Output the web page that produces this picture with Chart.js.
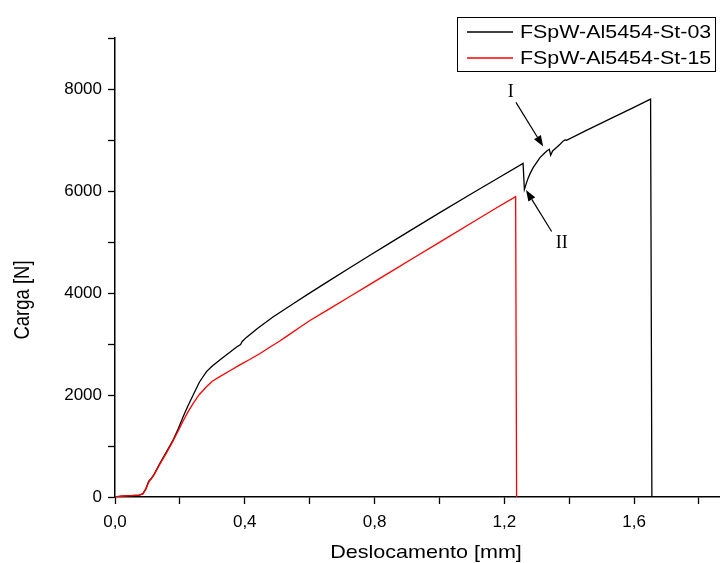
<!DOCTYPE html>
<html>
<head>
<meta charset="utf-8">
<script src="https://cdn.jsdelivr.net/npm/chart.js@4.4.1/dist/chart.umd.min.js"></script>
<style>
  html, body { margin: 0; padding: 0; background: #fff; }
  #wrap { width: 720px; height: 563px; position: relative; }
</style>
</head>
<body>
<div id="wrap"><canvas id="c" width="720" height="563"></canvas></div>
<script>
// Load–displacement curves of two friction spot welds (Al5454 / steel)
const seriesLabels = ['FSpW-Al5454-St-03', 'FSpW-Al5454-St-15'];

const dispSt03 = [0, 0.02, 0.05, 0.075, 0.086, 0.095, 0.102, 0.106, 0.110, 0.12, 0.138, 0.16, 0.179, 0.195,
  0.21, 0.225, 0.241, 0.26, 0.282, 0.30, 0.323, 0.35, 0.375, 0.387, 0.392, 0.405, 0.44, 0.487, 0.554,
  0.601, 0.662, 0.724, 0.786, 0.847, 0.92, 1.0, 1.1, 1.18, 1.258, 1.262, 1.268, 1.274, 1.281, 1.289,
  1.30, 1.31, 1.322, 1.331, 1.339, 1.343, 1.349, 1.361, 1.372, 1.382, 1.387, 1.392, 1.45, 1.526, 1.59,
  1.651, 1.655];
const loadSt03 = [0, 15, 25, 35, 66, 160, 280, 330, 345, 440, 657, 900, 1115, 1340,
  1573, 1790, 2000, 2250, 2458, 2570, 2688, 2820, 2940, 2990, 3050, 3130, 3310, 3530, 3810,
  4003, 4248, 4495, 4740, 4978, 5262, 5570, 5950, 6249, 6540, 6030, 6150, 6262, 6360, 6459,
  6560, 6655, 6730, 6786, 6818, 6700, 6785, 6852, 6917, 6982, 7001, 6995, 7180, 7414, 7610,
  7802, 0];

const dispSt15 = [0, 0.02, 0.05, 0.075, 0.086, 0.095, 0.102, 0.107, 0.12, 0.138, 0.16, 0.179, 0.195,
  0.21, 0.225, 0.241, 0.26, 0.282, 0.30, 0.323, 0.354, 0.385, 0.415, 0.446, 0.477, 0.508, 0.529,
  0.57, 0.601, 0.662, 0.724, 0.786, 0.847, 0.92, 1.0, 1.1, 1.17, 1.235, 1.238];
const loadSt15 = [0, 15, 25, 35, 60, 150, 260, 320, 430, 640, 880, 1100, 1300,
  1490, 1670, 1836, 2010, 2163, 2270, 2360, 2475, 2590, 2695, 2810, 2935, 3060, 3150,
  3330, 3460, 3694, 3932, 4170, 4405, 4685, 4993, 5377, 5646, 5890, 0];

const xTickValues = [0, 0.2, 0.4, 0.6, 0.8, 1.0, 1.2, 1.4, 1.6, 1.8];
const xTickLabels = ['0,0', '', '0,4', '', '0,8', '', '1,2', '', '1,6', ''];
const yTickValues = [0, 1000, 2000, 3000, 4000, 5000, 6000, 7000, 8000, 9000];
const yTickLabels = ['0', '', '2000', '', '4000', '', '6000', '', '8000', ''];

const xTitle = 'Deslocamento [mm]';
const yTitle = 'Carga [N]';

// Callouts on the St-03 curve: label position, arrow tail and arrow tip (data units)
const calloutText = ['I', 'II'];
const calloutLabelAt = [[1.2196, 7945], [1.377, 4983]];
const calloutFrom = [[1.236, 7737], [1.346, 5205]];
const calloutTo = [[1.320, 6871], [1.267, 6018]];

const SANS = '"Liberation Sans", Arial, sans-serif';
const SERIF = '"Liberation Serif", "Times New Roman", serif';

const toPoints = (xs, ys) => xs.map((x, i) => ({ x: x, y: ys[i] }));

// Arrows and roman-numeral labels
const calloutPlugin = {
  id: 'callouts',
  afterDatasetsDraw(chart) {
    const { ctx, scales: { x, y } } = chart;
    ctx.save();
    ctx.strokeStyle = '#000';
    ctx.fillStyle = '#000';
    ctx.lineWidth = 1.2;
    for (let i = 0; i < calloutText.length; i++) {
      const x0 = x.getPixelForValue(calloutFrom[i][0]);
      const y0 = y.getPixelForValue(calloutFrom[i][1]);
      const x1 = x.getPixelForValue(calloutTo[i][0]);
      const y1 = y.getPixelForValue(calloutTo[i][1]);
      const ang = Math.atan2(y1 - y0, x1 - x0);
      const len = 11, half = 4;
      const bx = x1 - len * Math.cos(ang), by = y1 - len * Math.sin(ang);
      ctx.beginPath();
      ctx.moveTo(x0, y0);
      ctx.lineTo(bx, by);
      ctx.stroke();
      ctx.beginPath();
      ctx.moveTo(x1, y1);
      ctx.lineTo(bx + half * Math.sin(ang), by - half * Math.cos(ang));
      ctx.lineTo(bx - half * Math.sin(ang), by + half * Math.cos(ang));
      ctx.closePath();
      ctx.fill();

      ctx.font = '18px ' + SERIF;
      ctx.textAlign = 'center';
      ctx.textBaseline = 'middle';
      ctx.fillText(calloutText[i],
        x.getPixelForValue(calloutLabelAt[i][0]),
        y.getPixelForValue(calloutLabelAt[i][1]));
    }
    ctx.restore();
  }
};

// Boxed legend in the upper right corner
const boxLegendPlugin = {
  id: 'boxLegend',
  afterDraw(chart) {
    const ctx = chart.ctx;
    const left = 457.5, top = 17.5, w = 258, h = 54;
    ctx.save();
    ctx.fillStyle = '#fff';
    ctx.fillRect(left, top, w, h);
    ctx.strokeStyle = '#000';
    ctx.lineWidth = 1;
    ctx.strokeRect(left, top, w, h);
    chart.data.datasets.forEach((ds, i) => {
      const cy = 32 + i * 26;
      ctx.strokeStyle = ds.borderColor;
      ctx.lineWidth = 1.3;
      ctx.beginPath();
      ctx.moveTo(467, cy);
      ctx.lineTo(513, cy);
      ctx.stroke();
      ctx.save();
      ctx.translate(520, cy + 1);
      ctx.scale(1.19, 1);
      ctx.fillStyle = '#000';
      ctx.font = '18px ' + SANS;
      ctx.textAlign = 'left';
      ctx.textBaseline = 'middle';
      ctx.fillText(ds.label, 0, 0);
      ctx.restore();
    });
    ctx.restore();
  }
};

// Axis titles
const axisTitlePlugin = {
  id: 'axisTitles',
  afterDraw(chart) {
    const ctx = chart.ctx;
    ctx.save();
    ctx.fillStyle = '#000';
    ctx.font = '18.5px ' + SANS;
    ctx.textAlign = 'center';
    ctx.textBaseline = 'alphabetic';
    ctx.save();
    ctx.translate(426, 558);
    ctx.scale(1.165, 1);
    ctx.fillText(xTitle, 0, 0);
    ctx.restore();
    ctx.save();
    ctx.translate(29, 300);
    ctx.rotate(-Math.PI / 2);
    ctx.scale(1, 1.165);
    ctx.fillText(yTitle, 0, 0);
    ctx.restore();
    ctx.restore();
  }
};

const tickFont = { family: SANS, size: 17 };

new Chart(document.getElementById('c').getContext('2d'), {
  type: 'line',
  data: {
    datasets: [
      { label: seriesLabels[0], data: toPoints(dispSt03, loadSt03), borderColor: '#000000',
        borderWidth: 1.3, pointRadius: 0, order: 1 },
      { label: seriesLabels[1], data: toPoints(dispSt15, loadSt15), borderColor: '#ff0000',
        borderWidth: 1.3, pointRadius: 0, order: 0 }
    ]
  },
  options: {
    responsive: false,
    animation: false,
    devicePixelRatio: 1,
    layout: { padding: { top: 38, right: 0, left: 0, bottom: 0 } },
    elements: { line: { tension: 0 } },
    plugins: { legend: { display: false }, tooltip: { enabled: false } },
    scales: {
      x: {
        type: 'linear', min: 0, max: 1.865,
        afterBuildTicks: s => { s.ticks = xTickValues.map(v => ({ value: v })); },
        afterFit: s => { s.height = 66; },
        ticks: { autoSkip: false, maxRotation: 0, color: '#000', font: tickFont, padding: 8,
          callback: (v, i) => xTickLabels[i] },
        grid: { drawOnChartArea: false, tickLength: 7, tickColor: '#000', tickWidth: 1.3 },
        border: { color: '#000', width: 1.5 }
      },
      y: {
        type: 'linear', min: 0, max: 9000,
        afterBuildTicks: s => { s.ticks = yTickValues.map(v => ({ value: v })); },
        afterFit: s => { s.width = 115; },
        ticks: { autoSkip: false, color: '#000', font: tickFont, padding: 6,
          callback: (v, i) => yTickLabels[i] },
        grid: { drawOnChartArea: false, tickLength: 7, tickColor: '#000', tickWidth: 1.3 },
        border: { color: '#000', width: 1.5 }
      }
    }
  },
  plugins: [calloutPlugin, boxLegendPlugin, axisTitlePlugin]
});
</script>
</body>
</html>
